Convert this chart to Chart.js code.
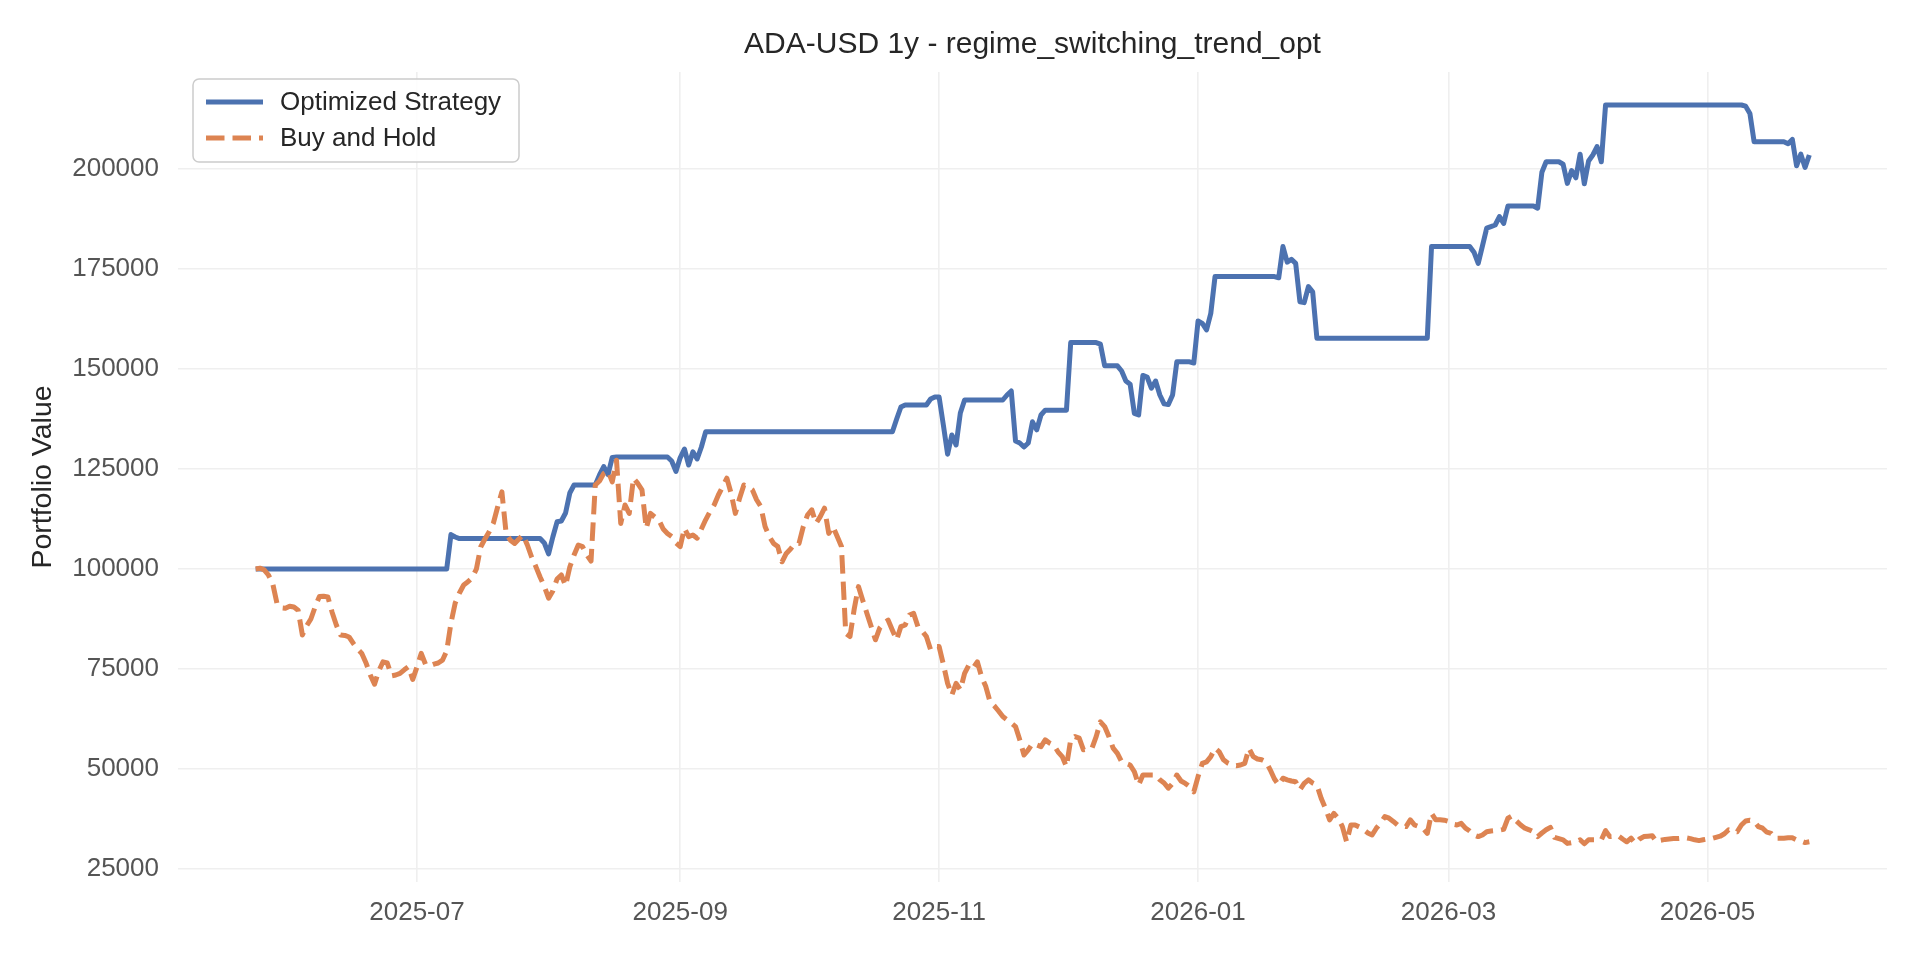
<!DOCTYPE html>
<html>
<head>
<meta charset="utf-8">
<script src="https://cdn.jsdelivr.net/npm/chart.js@4.4.1/dist/chart.umd.min.js"></script>
<style>
  html, body { margin: 0; padding: 0; background: #ffffff; }
  #wrap { width: 1920px; height: 960px; }
</style>
</head>
<body>
<div id="wrap"><canvas id="c" width="1920" height="960"></canvas></div>
<script>
// ---- DATA (daily, starting 2025-05-24; values in thousands of USD) ----
const startDate = '2025-05-24';
const chartTitle = 'ADA-USD 1y - regime_switching_trend_opt';
const yAxisLabel = 'Portfolio Value';
const seriesNames = ['Optimized Strategy', 'Buy and Hold'];

const strategyK = [
  100,100,100,100,100,100,100,100,100,100,
  100,100,100,100,100,100,100,100,100,100,
  100,100,100,100,100,100,100,100,100,100,
  100,100,100,100,100,100,100,100,100,100,
  100,100,100,100,100,100,108.6,108.0,107.6,107.6,
  107.6,107.6,107.6,107.6,107.6,107.6,107.6,107.6,107.6,107.6,
  107.6,107.6,107.6,107.6,107.6,107.6,107.6,107.6,106.5,103.8,
  108.0,111.8,112.0,114.0,119.0,121,121,121,121,121,
  121,123.5,125.6,123.6,127.9,128,128,128,128,128,
  128,128,128,128,128,128,128,128,127.0,124.4,
  127.8,130.0,126.0,129.3,127.5,130.5,134.3,134.3,134.3,134.3,
  134.3,134.3,134.3,134.3,134.3,134.3,134.3,134.3,134.3,134.3,
  134.3,134.3,134.3,134.3,134.3,134.3,134.3,134.3,134.3,134.3,
  134.3,134.3,134.3,134.3,134.3,134.3,134.3,134.3,134.3,134.3,
  134.3,134.3,134.3,134.3,134.3,134.3,134.3,134.3,134.3,134.3,
  134.3,137.5,140.5,141,141,141,141,141,141,142.5,
  143.0,143.0,136.0,128.7,133.5,131.0,139.0,142.25,142.25,142.25,
  142.25,142.25,142.25,142.25,142.25,142.25,142.25,143.5,144.5,132.0,
  131.5,130.5,131.5,136.8,134.8,138.5,139.7,139.7,139.7,139.7,
  139.7,139.7,156.6,156.6,156.6,156.6,156.6,156.6,156.6,156.2,
  150.8,150.8,150.8,150.8,149.5,147.0,146.2,138.9,138.5,148.4,
  148.0,145.2,147.0,143.5,141.3,141.1,143.5,151.8,151.8,151.8,
  151.8,151.5,162.0,161.4,159.8,163.9,173.1,173.1,173.1,173.1,
  173.1,173.1,173.1,173.1,173.1,173.1,173.1,173.1,173.1,173.1,
  173.1,172.8,180.6,176.7,177.4,176.4,166.8,166.6,170.6,169.3,
  157.7,157.7,157.7,157.7,157.7,157.7,157.7,157.7,157.7,157.7,
  157.7,157.7,157.7,157.7,157.7,157.7,157.7,157.7,157.7,157.7,
  157.7,157.7,157.7,157.7,157.7,157.7,157.7,180.6,180.6,180.6,
  180.6,180.6,180.6,180.6,180.6,180.6,180.6,179.2,176.4,180.8,
  185.2,185.6,186.0,188.1,186.4,190.75,190.75,190.75,190.75,190.75,
  190.75,190.75,190.2,199.2,201.8,201.8,201.8,201.8,201.2,196.4,
  199.6,197.8,203.7,196.3,202.0,203.5,205.6,201.8,216,216,
  216,216,216,216,216,216,216,216,216,216,
  216,216,216,216,216,216,216,216,216,216,
  216,216,216,216,216,216,216,216,216,216,
  216,215.7,213.9,206.8,206.8,206.8,206.8,206.8,206.8,206.8,
  206.8,206.3,207.4,200.8,203.7,200.4,203.5
];

const buyHoldK = [
  100,100.2,99.8,98.5,96.4,91.5,90.3,90.2,90.7,90.5,
  89.7,83.5,85.8,87.5,90.5,93.1,93.2,93.0,89.2,86.0,
  83.5,83.4,83.0,81.4,80.0,78.9,76.5,73.5,71.2,74.5,
  76.8,76.5,73.3,73.5,73.9,74.8,75.6,72.4,75.5,78.9,
  76.2,75.8,76.2,76.5,77.2,79.5,86.5,91.5,94.0,96.0,
  96.8,97.8,100.0,105.5,107.5,109.3,111.5,115.5,119.3,108.9,
  107.2,106.4,107.5,108.5,106.0,103.0,100.6,98.0,95.6,92.7,
  94.5,97.5,98.5,95.8,100.5,103.5,106.0,105.6,103.5,102.0,
  121.0,122.0,123.9,124.5,121.8,127.2,111.4,116.0,113.9,122.7,
  121.4,119.8,110.2,113.9,113.0,112.2,110.0,108.9,108.1,106.5,
  105.6,110.2,108.1,108.5,107.7,110.0,112.3,114.3,116.0,118.5,
  120.6,122.7,118.9,113.9,117.7,121.0,120.5,119.8,117.3,115.6,
  110.6,108.1,106.4,105.6,101.8,103.9,105.0,106.4,106.4,110.6,
  113.5,114.8,111.4,113.1,115.2,108.9,110.6,108.1,105.6,83.9,
  83.1,90.0,95.6,92.2,88.9,85.6,82.3,85.2,86.5,87.2,
  84.7,82.3,85.6,86.0,88.5,88.9,85.6,84.5,83.1,79.8,
  80.6,80.6,76.2,71.4,68.5,71.4,69.8,73.9,76.0,75.2,
  76.8,73.1,70.6,66.8,65.8,64.5,63.1,62.3,61.5,60.6,
  57.3,53.5,54.8,56.4,56.0,55.6,57.3,56.5,56.0,54.3,
  53.1,50.6,57.3,58.1,57.7,54.8,55.0,55.2,58.1,61.8,
  60.6,58.1,55.2,53.9,51.8,51.4,51.0,49.3,46.0,48.5,
  48.5,48.5,48.5,47.3,46.5,45.2,46.4,48.5,47.0,46.4,
  45.6,44.3,48.1,51.4,51.8,53.1,55.2,54.3,52.3,51.5,
  51.0,50.8,51.0,51.4,55.2,53.1,52.5,52.3,51.8,49.8,
  47.5,46.0,47.7,47.3,47.0,46.8,44.8,46.4,47.3,46.5,
  46.0,42.7,40.2,37.3,38.9,37.7,35.6,31.8,36.0,36.0,
  35.5,34.8,34.0,33.5,35.2,36.5,38.1,37.7,36.9,36.0,
  35.8,35.6,37.3,36.0,35.6,35.2,33.9,38.9,37.3,37.3,
  37.2,36.9,36.2,36.0,36.4,35.2,34.5,33.5,33.1,33.5,
  34.3,34.5,34.6,34.7,34.9,37.7,38.3,37.0,36.0,35.2,
  34.8,34.3,33.1,34.0,34.8,35.4,32.9,32.6,32.3,31.4,
  31.6,31.8,32.3,31.3,32.3,32.3,32.3,32.3,34.6,33.1,
  33.2,33.3,32.5,31.8,32.7,31.4,32.5,33.1,33.2,33.3,
  31.8,32.2,32.4,32.5,32.6,32.6,32.7,32.8,32.6,32.3,
  32.1,32.3,32.5,32.6,32.9,33.2,33.8,34.8,34.5,34.3,
  36.0,37.0,37.2,36.9,35.6,35.2,34.2,33.9,32.7,32.7,
  32.7,32.8,32.8,32.3,32.0,31.6,31.8
];

const xTickLabels = ['2025-07', '2025-09', '2025-11', '2026-01', '2026-03', '2026-05'];
const yTickValues = [25000, 50000, 75000, 100000, 125000, 150000, 175000, 200000];

// ---- helpers ----
const DAY_MS = 86400000;
const dayOf = (ym) => Math.round((Date.parse(ym + '-01') - Date.parse(startDate)) / DAY_MS);
const xTickDays = xTickLabels.map(dayOf);
const toPoints = (arr) => arr.map((v, i) => ({ x: i, y: v * 1000 }));

const FONT = "'Liberation Sans', Arial, Helvetica, sans-serif";
const BLUE = '#4C72B0';
const ORANGE = '#DD8452';
const GRID = '#efefef';
const nDays = strategyK.length - 1;
const xPad = nDays * 0.05;

const whiteBg = {
  id: 'whiteBg',
  beforeDraw(chart) {
    const { ctx, width, height } = chart;
    ctx.save();
    ctx.fillStyle = '#ffffff';
    ctx.fillRect(0, 0, width, height);
    ctx.restore();
  }
};

const boxLegend = {
  id: 'boxLegend',
  afterDatasetsDraw(chart) {
    const { ctx, chartArea } = chart;
    const bx = chartArea.left + 15, by = chartArea.top + 7, bw = 326, bh = 83;
    ctx.save();
    ctx.beginPath();
    if (ctx.roundRect) ctx.roundRect(bx, by, bw, bh, 6); else ctx.rect(bx, by, bw, bh);
    ctx.fillStyle = 'rgba(255,255,255,0.85)';
    ctx.fill();
    ctx.strokeStyle = '#cccccc';
    ctx.lineWidth = 1.5;
    ctx.stroke();
    const rowY = [by + 23, by + 59];
    chart.data.datasets.forEach((ds, i) => {
      const y = rowY[i];
      ctx.beginPath();
      ctx.setLineDash(ds.borderDash || []);
      ctx.lineDashOffset = 0;
      ctx.strokeStyle = ds.borderColor;
      ctx.lineWidth = ds.borderWidth;
      ctx.lineCap = 'butt';
      ctx.moveTo(bx + 13, y);
      ctx.lineTo(bx + 70, y);
      ctx.stroke();
      ctx.setLineDash([]);
      ctx.fillStyle = '#262626';
      ctx.font = '26px ' + FONT;
      ctx.textBaseline = 'middle';
      ctx.textAlign = 'left';
      ctx.fillText(ds.label, bx + 87, y + 1);
    });
    ctx.restore();
  }
};

new Chart(document.getElementById('c'), {
  type: 'line',
  data: {
    datasets: [
      {
        label: seriesNames[0],
        data: toPoints(strategyK),
        borderColor: BLUE,
        backgroundColor: BLUE,
        borderWidth: 5,
        pointRadius: 0,
        tension: 0,
        borderJoinStyle: 'round',
        order: 1
      },
      {
        label: seriesNames[1],
        data: toPoints(buyHoldK),
        borderColor: ORANGE,
        backgroundColor: ORANGE,
        borderWidth: 5,
        borderDash: [18.5, 8],
        pointRadius: 0,
        tension: 0,
        borderJoinStyle: 'round',
        order: 0
      }
    ]
  },
  options: {
    responsive: false,
    devicePixelRatio: 1,
    animation: false,
    layout: { padding: { left: 0, right: 33, top: 0, bottom: 0 } },
    plugins: {
      legend: { display: false },
      tooltip: { enabled: false },
      title: {
        display: true,
        text: chartTitle,
        fullSize: false,
        color: '#262626',
        font: { family: FONT, size: 30, weight: 'normal' },
        padding: { top: 27, bottom: 9 }
      }
    },
    scales: {
      x: {
        type: 'linear',
        min: -xPad,
        max: nDays + xPad,
        afterBuildTicks: (s) => { s.ticks = xTickDays.map(v => ({ value: v })); },
        afterFit: (s) => { s.height = 78; },
        ticks: {
          autoSkip: false,
          maxRotation: 0,
          padding: 15,
          color: '#555555',
          font: { family: FONT, size: 26 },
          callback: (v, i) => xTickLabels[i]
        },
        grid: { color: GRID, lineWidth: 1.6, drawTicks: false },
        border: { display: false }
      },
      y: {
        type: 'linear',
        min: 21750,
        max: 224250,
        afterBuildTicks: (s) => { s.ticks = yTickValues.map(v => ({ value: v })); },
        afterFit: (s) => { s.width = 178; },
        ticks: {
          autoSkip: false,
          padding: 19,
          color: '#555555',
          font: { family: FONT, size: 26 },
          callback: (v) => String(v)
        },
        title: {
          display: true,
          text: yAxisLabel,
          color: '#262626',
          font: { family: FONT, size: 28.5 },
          padding: { top: 26, bottom: 0 }
        },
        grid: { color: GRID, lineWidth: 1.6, drawTicks: false },
        border: { display: false }
      }
    }
  },
  plugins: [whiteBg, boxLegend]
});
</script>
</body>
</html>
